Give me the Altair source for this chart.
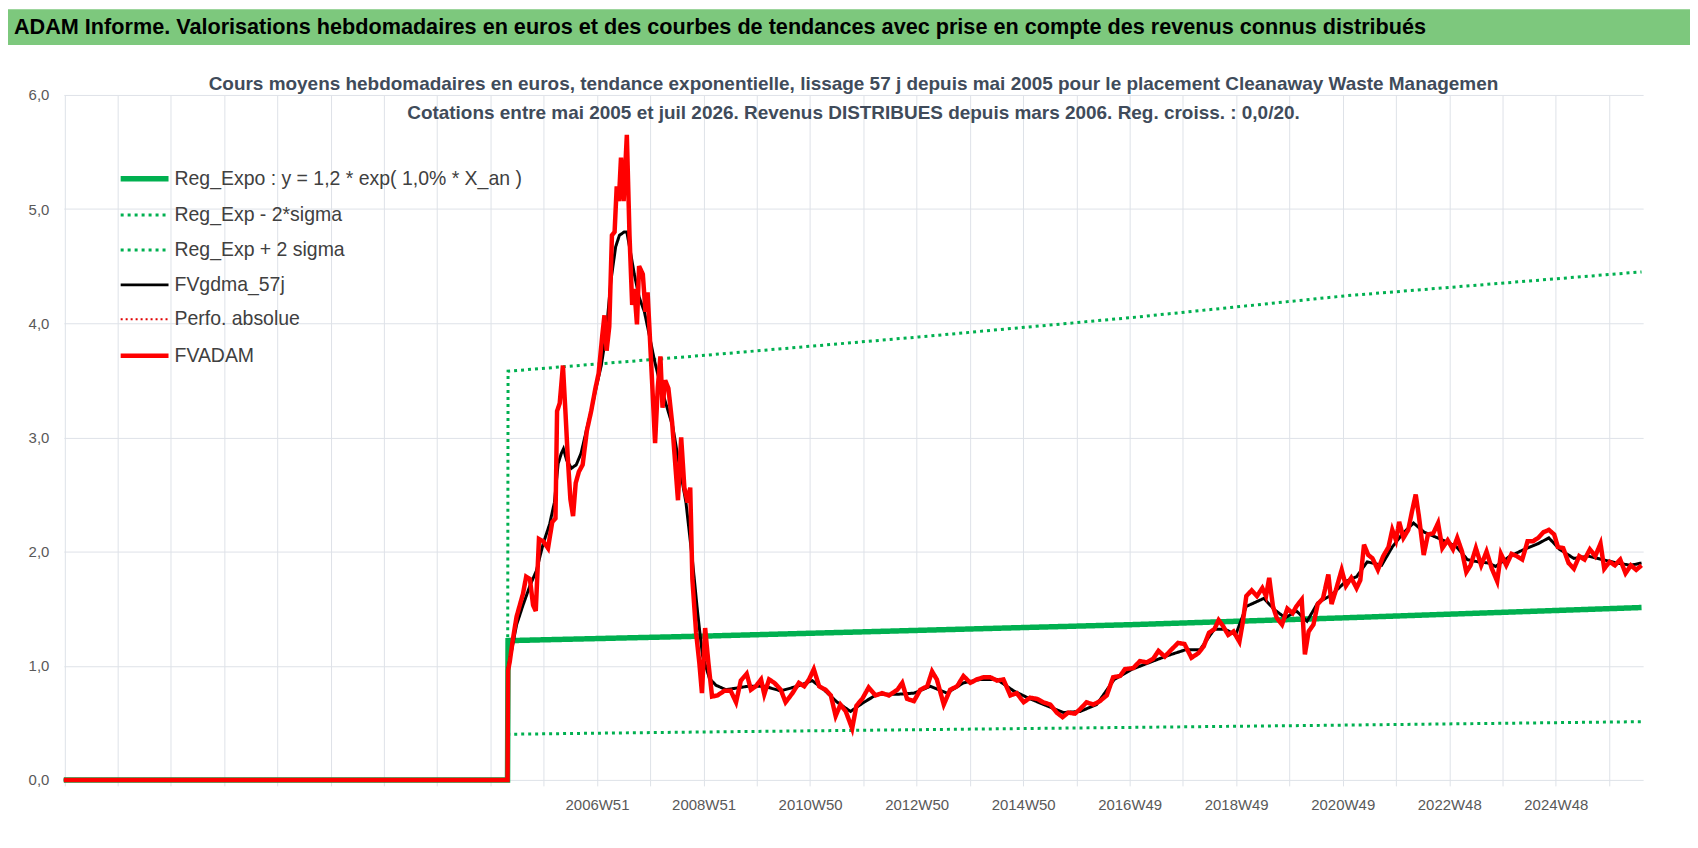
import altair as alt
import pandas as pd

FONT = "Liberation Sans, Arial, sans-serif"
GRID = "#DEE2E8"

HEADER = "ADAM Informe. Valorisations hebdomadaires en euros et des courbes de tendances avec prise en compte des revenus connus distribués"
TITLE_1 = "Cours moyens hebdomadaires en euros, tendance exponentielle, lissage 57 j depuis mai 2005 pour le placement Cleanaway Waste Managemen"
TITLE_2 = "Cotations entre mai 2005 et juil 2026. Revenus DISTRIBUES depuis mars 2006. Reg. croiss. : 0,0/20."

SERIES = ["Reg_Expo : y = 1,2 * exp( 1,0% *  X_an )", "Reg_Exp - 2*sigma", "Reg_Exp + 2 sigma",
          "FVgdma_57j", "Perfo. absolue", "FVADAM"]
COLORS = ["#00B050", "#00B050", "#00B050", "#000000", "#E00000", "#FF0000"]
DASHES = [[1, 0], [3, 4], [3, 4], [1, 0], [2, 3], [1, 0]]
WIDTHS = [5.5, 3, 3, 3, 2, 4.5]

GRID_YEARS = [1996.96, 1997.96, 1998.96, 1999.96, 2000.96, 2001.96, 2002.96, 2003.96, 2004.96, 2005.96,
              2006.96, 2007.96, 2008.96, 2009.96, 2010.96, 2011.96, 2012.96, 2013.96, 2014.96, 2015.96,
              2016.96, 2017.96, 2018.96, 2019.96, 2020.96, 2021.96, 2022.96, 2023.96, 2024.96, 2025.96]
LABEL_YEARS = [2006.96, 2008.96, 2010.96, 2012.96, 2014.96, 2016.96, 2018.96, 2020.96, 2022.96, 2024.96]
LABELS = ["2006W51", "2008W51", "2010W50", "2012W50", "2014W50", "2016W49", "2018W49", "2020W49", "2022W48", "2024W48"]
X_DOMAIN = [1996.95, 2026.6]
Y_TICKS = [0, 1, 2, 3, 4, 5, 6]

red_x = [1996.95, 2005.28,
         2005.29, 2005.32, 2005.38, 2005.45, 2005.51, 2005.57, 2005.63, 2005.70, 2005.76, 2005.81, 2005.87, 2005.95,
         2006.04, 2006.12, 2006.18, 2006.21, 2006.26, 2006.32, 2006.37, 2006.41, 2006.46, 2006.51, 2006.56, 2006.62,
         2006.69, 2006.77, 2006.85, 2006.93, 2006.99,
         2007.06, 2007.10, 2007.14, 2007.19, 2007.24, 2007.29, 2007.33, 2007.37, 2007.41, 2007.46, 2007.52, 2007.57,
         2007.62, 2007.66, 2007.71, 2007.75, 2007.82, 2007.87, 2007.91, 2007.95,
         2008.00, 2008.05, 2008.10, 2008.15, 2008.19, 2008.24, 2008.30, 2008.37, 2008.43, 2008.48, 2008.54, 2008.60,
         2008.66, 2008.71, 2008.75, 2008.82, 2008.88, 2008.93, 2008.99, 2009.05, 2009.12,
         2009.22, 2009.35, 2009.47, 2009.57, 2009.66, 2009.77, 2009.85, 2009.94,
         2010.04, 2010.10, 2010.19, 2010.29, 2010.41, 2010.50, 2010.63, 2010.75, 2010.85, 2010.94,
         2011.03, 2011.13, 2011.25, 2011.35, 2011.44, 2011.53, 2011.63, 2011.75, 2011.83, 2011.94,
         2012.06, 2012.19, 2012.31, 2012.44, 2012.60, 2012.69, 2012.78, 2012.91,
         2013.03, 2013.16, 2013.25, 2013.34, 2013.47, 2013.59, 2013.72, 2013.84, 2013.97,
         2014.09, 2014.22, 2014.34, 2014.47, 2014.59, 2014.72, 2014.84, 2014.97,
         2015.09, 2015.22, 2015.34, 2015.47, 2015.59, 2015.70, 2015.81, 2015.93,
         2016.03, 2016.15, 2016.28, 2016.40, 2016.53, 2016.65, 2016.78, 2016.87,
         2017.03, 2017.15, 2017.28, 2017.40, 2017.50, 2017.62, 2017.74, 2017.87, 2017.99, 2018.12,
         2018.25, 2018.35, 2018.45, 2018.55, 2018.63, 2018.71, 2018.81, 2018.91,
         2019.02, 2019.08, 2019.15, 2019.25, 2019.35, 2019.45, 2019.52, 2019.58, 2019.65, 2019.72, 2019.82, 2019.92,
         2020.02, 2020.09, 2020.19, 2020.25, 2020.32, 2020.41, 2020.49, 2020.59, 2020.69, 2020.75, 2020.83, 2020.94,
         2021.02, 2021.12, 2021.22, 2021.29, 2021.36, 2021.44, 2021.52, 2021.62, 2021.72, 2021.82, 2021.89, 2021.96,
         2022.02, 2022.10, 2022.19, 2022.26, 2022.33, 2022.39, 2022.48, 2022.56, 2022.66, 2022.75, 2022.83, 2022.93,
         2023.03, 2023.11, 2023.20, 2023.28, 2023.36, 2023.46, 2023.56, 2023.66, 2023.76, 2023.86, 2023.93,
         2024.03, 2024.13, 2024.23, 2024.33, 2024.43, 2024.53, 2024.63, 2024.73, 2024.83, 2024.93,
         2025.00, 2025.10, 2025.20, 2025.30, 2025.40, 2025.50, 2025.60, 2025.70, 2025.80, 2025.87, 2025.97,
         2026.07, 2026.17, 2026.27, 2026.37, 2026.47, 2026.57]
red_y = [0, 0,
         0.96, 1.03, 1.23, 1.43, 1.53, 1.63, 1.78, 1.76, 1.53, 1.48, 2.11, 2.09,
         2.03, 2.26, 2.29, 3.23, 3.30, 3.63, 3.20, 2.83, 2.46, 2.31, 2.60, 2.70,
         2.76, 3.06, 3.23, 3.43, 3.56,
         3.90, 4.07, 3.76, 3.97, 4.77, 4.80, 5.20, 5.07, 5.45, 5.07, 5.65, 4.77,
         4.16, 4.30, 3.99, 4.50, 4.43, 4.10, 4.27, 3.90,
         3.43, 2.95, 3.43, 3.71, 3.26, 3.50, 3.43, 3.13, 2.76, 2.45, 3.00, 2.56,
         2.43, 2.56, 1.76, 1.29, 1.03, 0.76, 1.33, 1.03, 0.73,
         0.74, 0.78, 0.78, 0.68, 0.87, 0.93, 0.79, 0.82,
         0.88, 0.75, 0.88, 0.85, 0.79, 0.68, 0.76, 0.85, 0.82, 0.88,
         0.97, 0.82, 0.79, 0.74, 0.56, 0.66, 0.60, 0.45, 0.65, 0.71,
         0.81, 0.74, 0.76, 0.74, 0.79, 0.85, 0.71, 0.69,
         0.79, 0.82, 0.95, 0.88, 0.66, 0.79, 0.82, 0.91, 0.85,
         0.88, 0.90, 0.90, 0.87, 0.88, 0.74, 0.76, 0.68,
         0.72, 0.71, 0.68, 0.66, 0.59, 0.55, 0.59, 0.58,
         0.62, 0.68, 0.66, 0.69, 0.74, 0.90, 0.91, 0.97,
         0.98, 1.04, 1.03, 1.06, 1.13, 1.08, 1.14, 1.20, 1.19, 1.07,
         1.11, 1.17, 1.29, 1.32, 1.40, 1.35, 1.27, 1.30,
         1.21, 1.37, 1.61, 1.66, 1.61, 1.68, 1.61, 1.77, 1.52, 1.42, 1.36, 1.50,
         1.46, 1.52, 1.58, 1.10, 1.30, 1.36, 1.54, 1.59, 1.80, 1.54, 1.66, 1.84,
         1.70, 1.77, 1.68, 1.75, 2.06, 1.97, 1.94, 1.84, 1.96, 2.04, 2.19, 2.10,
         2.26, 2.12, 2.19, 2.35, 2.50, 2.31, 1.97, 2.15, 2.16, 2.25, 2.03, 2.10,
         2.02, 2.12, 2.00, 1.82, 1.88, 2.03, 1.88, 2.00, 1.85, 1.74, 1.98,
         1.88, 1.98, 1.96, 1.93, 2.09, 2.09, 2.12, 2.17, 2.19, 2.15,
         2.04, 2.03, 1.90, 1.85, 1.96, 1.93, 2.02, 1.96, 2.07, 1.85, 1.91,
         1.88, 1.93, 1.81, 1.88, 1.84, 1.88]

black_x = [1996.95, 2005.28,
           2005.29, 2005.38, 2005.45, 2005.57, 2005.70, 2005.82, 2005.95,
           2006.07, 2006.16, 2006.23, 2006.29, 2006.33, 2006.39, 2006.48, 2006.57, 2006.66, 2006.76, 2006.85, 2006.94,
           2007.04, 2007.13, 2007.22, 2007.31, 2007.38, 2007.47, 2007.52, 2007.57, 2007.66, 2007.75, 2007.85, 2007.94,
           2008.04, 2008.13, 2008.25, 2008.38, 2008.50, 2008.63, 2008.75, 2008.85, 2008.94,
           2009.07, 2009.19, 2009.38,
           2009.79, 2010.10, 2010.41, 2010.72, 2011.00, 2011.22, 2011.47, 2011.72, 2011.97, 2012.22, 2012.60,
           2012.91, 2013.22, 2013.53, 2013.84, 2014.16, 2014.47, 2014.78, 2015.09, 2015.40, 2015.72, 2016.03, 2016.34,
           2016.67, 2017.01, 2017.34, 2017.68, 2018.01, 2018.28, 2018.55, 2018.75, 2018.95,
           2019.15, 2019.48, 2019.68, 2019.88, 2020.09, 2020.29, 2020.49, 2020.75,
           2021.02, 2021.22, 2021.42, 2021.69, 2021.89, 2022.09, 2022.29, 2022.49, 2022.69, 2022.89,
           2023.10, 2023.30, 2023.50, 2023.70, 2023.83, 2024.10, 2024.37, 2024.63, 2024.83,
           2025.03, 2025.30, 2025.57, 2025.84, 2026.10, 2026.37, 2026.57]
black_y = [0, 0,
           0.98, 1.19, 1.36, 1.53, 1.70, 1.83, 2.07,
           2.24, 2.43, 2.77, 2.86, 2.90, 2.80, 2.73, 2.76, 2.86, 3.06, 3.23, 3.43,
           3.63, 3.90, 4.37, 4.67, 4.77, 4.80, 4.80, 4.67, 4.43, 4.23, 4.10, 3.90,
           3.67, 3.50, 3.30, 3.10, 2.77, 2.43, 1.93, 1.46, 1.09,
           0.89, 0.83, 0.79,
           0.82, 0.82, 0.78, 0.82, 0.87, 0.79, 0.68, 0.60, 0.68, 0.75, 0.75,
           0.76, 0.82, 0.76, 0.85, 0.88, 0.88, 0.78, 0.71, 0.65, 0.59, 0.60, 0.66,
           0.88, 0.97, 1.03, 1.09, 1.14, 1.14, 1.32, 1.32, 1.27,
           1.52, 1.59, 1.49, 1.42, 1.48, 1.39, 1.55, 1.62,
           1.74, 1.78, 1.91, 1.88, 2.04, 2.16, 2.25, 2.17, 2.13, 2.09,
           2.04, 1.93, 1.91, 1.90, 1.87, 1.96, 2.02, 2.07, 2.12,
           2.02, 1.94, 1.96, 1.93, 1.90, 1.88, 1.90]

trend_x = [1996.95, 2005.28, 2005.29, 2009.0, 2013.0, 2017.0, 2021.0, 2026.57]
reg_y = [0, 0, 1.22, 1.26, 1.31, 1.36, 1.42, 1.51]
low_y = [0, 0, 0.40, 0.42, 0.44, 0.46, 0.48, 0.51]
up_y = [0, 0, 3.58, 3.72, 3.88, 4.05, 4.24, 4.45]

frames = [
    pd.DataFrame({"x": trend_x, "y": reg_y, "series": SERIES[0]}),
    pd.DataFrame({"x": trend_x, "y": low_y, "series": SERIES[1]}),
    pd.DataFrame({"x": trend_x, "y": up_y, "series": SERIES[2]}),
    pd.DataFrame({"x": black_x, "y": black_y, "series": SERIES[3]}),
    pd.DataFrame({"x": red_x, "y": red_y, "series": SERIES[5]}),
]
df = pd.concat(frames, ignore_index=True)

label_expr = "''"
for yv, lab in reversed(list(zip(LABEL_YEARS, LABELS))):
    label_expr = f"abs(datum.value - {yv}) < 0.01 ? '{lab}' : " + label_expr

LEG = alt.Legend(title=None, orient="none", legendX=54, legendY=143, symbolType="stroke",
                 symbolSize=2304, labelFont=FONT, labelFontSize=19.5, labelColor="#404040",
                 labelLimit=700, labelOffset=3, rowPadding=0, padding=0)

base = alt.Chart(df).encode(
    x=alt.X("x:Q", scale=alt.Scale(domain=X_DOMAIN, nice=False, zero=False),
            axis=alt.Axis(values=GRID_YEARS, labelExpr=label_expr, title=None, grid=True, gridColor=GRID,
                          tickColor=GRID, tickSize=6, domain=False, labelFont=FONT, labelFontSize=15,
                          labelColor="#595959", labelPadding=12, labelOverlap=False, labelFlush=False,
                          labelBound=False)),
    y=alt.Y("y:Q", scale=alt.Scale(domain=[0, 6], nice=False, zero=True),
            axis=alt.Axis(values=Y_TICKS, labelExpr="replace(format(datum.value, '.1f'), '.', ',')",
                          title=None, grid=True, gridColor=GRID, domain=False, ticks=False, labelPadding=15,
                          minExtent=56, maxExtent=56, labelFont=FONT, labelFontSize=15,
                          labelColor="#595959")),
    color=alt.Color("series:N", scale=alt.Scale(domain=SERIES, range=COLORS), legend=LEG),
    strokeDash=alt.StrokeDash("series:N", scale=alt.Scale(domain=SERIES, range=DASHES), legend=LEG),
    strokeWidth=alt.StrokeWidth("series:N", scale=alt.Scale(type="ordinal", domain=SERIES, range=WIDTHS),
                                legend=LEG),
    order=alt.Order("x:Q"),
)

draw_order = [SERIES[1], SERIES[2], SERIES[0], SERIES[3], SERIES[5]]
layers = [base.transform_filter(alt.FieldEqualPredicate(field="series", equal=s)).mark_line(strokeCap="butt")
          for s in draw_order]

main = alt.layer(*layers).properties(
    width=1584, height=687,
    title=alt.TitleParams(text=[TITLE_1, TITLE_2], font=FONT, fontSize=19, fontWeight="bold",
                          color="#404B5A", anchor="middle", frame="group", offset=-35, lineHeight=29),
)

# header banner: green band across the page with the report heading
head_df = pd.DataFrame({"t": [HEADER]})
band = alt.Chart(head_df).mark_rect(color="#7DC87D").encode(
    x=alt.value(-56), x2=alt.value(1631), y=alt.value(0), y2=alt.value(36))
head_text = alt.Chart(head_df).mark_text(
    align="left", baseline="middle", font=FONT, fontSize=21.7, fontWeight="bold", color="#000000"
).encode(x=alt.value(-50), y=alt.value(18), text="t:N")
header = alt.layer(band, head_text).properties(width=1584, height=36)

chart = alt.concat(header, main, columns=1, align="none", spacing=30).properties(padding=0).configure_view(strokeWidth=0)

chart.save("out.html", embed_options={"renderer": "svg", "actions": False})
